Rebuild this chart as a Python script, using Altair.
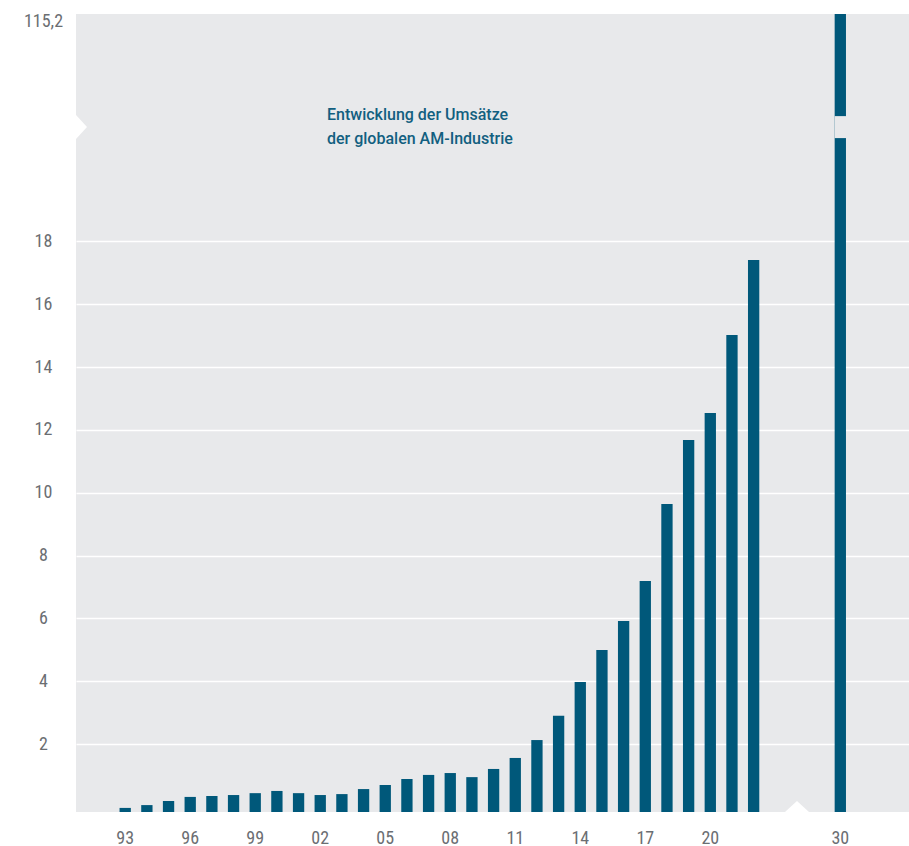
import altair as alt
import pandas as pd

# ---- data -------------------------------------------------------------
years = [str(y) for y in range(1993, 2023)]
revenue = [0.13, 0.22, 0.35, 0.48, 0.51, 0.54, 0.60, 0.67, 0.60, 0.54,
           0.57, 0.73, 0.86, 1.05, 1.18, 1.24, 1.11, 1.37, 1.72, 2.29,
           3.06, 4.14, 5.16, 6.08, 7.35, 9.80, 11.84, 12.70, 15.18, 17.57]
forecast_year = "2030"
forecast_value = 115.2

lead_slots = ["lead1", "lead2"]               # empty room left of 1993
gap_slots = ["gap1", "gap2", "gap3"]          # empty slots of the broken x axis
trail_slots = ["trail1"]
x_tick_years = ["1993", "1996", "1999", "2002", "2005", "2008",
                "2011", "2014", "2017", "2020", "2030"]
y_ticks = [2, 4, 6, 8, 10, 12, 14, 16, 18]
y_visible_max = 25.4          # linear part of the broken y axis
top_tick = 25                 # where the label of the broken top sits
break_lo, break_hi = 21.45, 22.15
break_mid = 21.8

title_lines = ["Entwicklung der Umsätze", "der globalen AM-Industrie"]
top_label = f"{forecast_value:.1f}".replace(".", ",")

# ---- styling ----------------------------------------------------------
BAR = "#00587a"
PANEL = "#e8e9eb"
LABEL = "#6b6e72"
TEXT = "#125f80"
AXIS_FONT = "Roboto Condensed, Roboto, sans-serif"
TITLE_FONT = "Roboto, sans-serif"

bars = pd.DataFrame({"year": years + [forecast_year],
                     "value": revenue + [forecast_value]})
gap = pd.DataFrame({"year": [forecast_year], "value": [break_lo], "value2": [break_hi]})
bottom_notch = pd.DataFrame({"year": [gap_slots[1]], "value": [0]})
left_notch = pd.DataFrame({"value": [break_mid]})

x_domain = lead_slots + years + gap_slots + [forecast_year] + trail_slots
x_scale = alt.Scale(domain=x_domain, paddingInner=0.478, paddingOuter=0.959,
                    align=0.005, round=False)
y_scale = alt.Scale(domain=[0, y_visible_max], clamp=True, nice=False, zero=True)

x_axis = alt.Axis(values=x_tick_years, labelExpr="substring(datum.label, 2)",
                  domain=False, ticks=False, tickSize=0, grid=False,
                  labelAngle=0, labelPadding=17, labelFont=AXIS_FONT,
                  labelFontSize=18, labelColor=LABEL, labelBaseline="top")
y_axis = alt.Axis(values=y_ticks + [top_tick],
                  labelExpr=f"datum.value > 20 ? '{top_label}' : datum.label",
                  domain=False, ticks=False, tickSize=0, tickOffset=-5,
                  grid=True, gridColor="white", gridWidth=1.5,
                  gridOpacity={"condition": {"test": "datum.value > 20", "value": 0},
                               "value": 1},
                  labelAlign="center", labelBaseline="middle", labelPadding=33,
                  labelFont=AXIS_FONT, labelFontSize=18, labelColor=LABEL)

X = alt.X("year:N", scale=x_scale, title=None, axis=x_axis)
Y = alt.Y("value:Q", scale=y_scale, title=None, axis=y_axis)

bar_layer = alt.Chart(bars).mark_bar(color=BAR).encode(x=X, y=Y)

gap_layer = alt.Chart(gap).mark_bar(color=PANEL).encode(x=X, y=Y, y2="value2:Q")

bottom_notch_layer = alt.Chart(bottom_notch).mark_point(
    shape="M-1,0L0,-0.917L1,0Z", filled=True, color="white", opacity=1,
    size=576, strokeWidth=0,
).encode(x=X, y=Y)

left_notch_layer = alt.Chart(left_notch).mark_point(
    shape="M0,-1L0.917,0L0,1Z", filled=True, color="white", opacity=1,
    size=576, strokeWidth=0,
).encode(x=alt.value(0), y=Y)

chart = alt.layer(bar_layer, gap_layer, bottom_notch_layer, left_notch_layer).properties(
    width=833,
    height=798,
    autosize=alt.AutoSizeParams(type="none"),
    padding={"left": 76, "top": 14, "right": 0, "bottom": 34},
    background="white",
    title=alt.TitleParams(text=title_lines, anchor="start", frame="group",
                          orient="top", offset=0, dx=251, dy=134, baseline="top",
                          align="left", font=TITLE_FONT, fontSize=16,
                          fontWeight=500, color=TEXT, lineHeight=23.5),
).configure_view(fill=PANEL, strokeWidth=0)

chart.save("out.html", embed_options={"renderer": "svg", "actions": False})
